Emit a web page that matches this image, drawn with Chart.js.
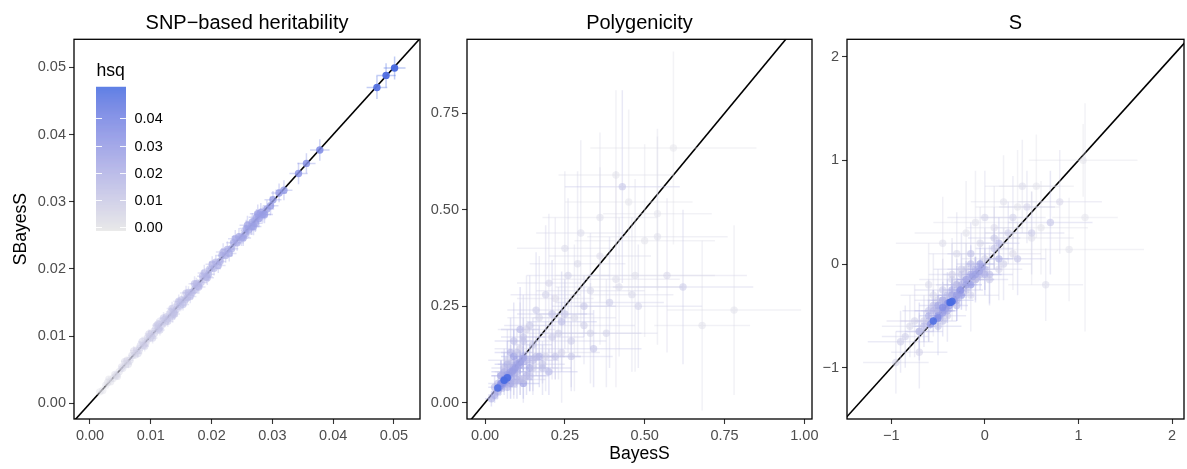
<!DOCTYPE html>
<html lang="en">
<head>
<meta charset="UTF-8">
<title>BayesS vs SBayesS</title>
<script src="https://cdn.jsdelivr.net/npm/chart.js"></script>
<style>
  body { margin: 0; background: #fff; }
  #wrap { position: relative; width: 1187px; height: 469px; overflow: hidden; }
  #wrap canvas { position: absolute; top: 0; }
</style>
</head>
<body>
<div id="wrap">
  <canvas id="c1" width="424" height="469" style="left:0px"></canvas>
  <canvas id="c2" width="402" height="469" style="left:424px"></canvas>
  <canvas id="c3" width="372" height="469" style="left:816px"></canvas>
</div>
<script>
// SNP-based heritability (also the colour value, hsq)
const hsqBayes = [0.0031,0.0045,0.0057,0.0063,0.0072,0.0079,0.0086,0.0090,0.0097,0.0103,
  0.0110,0.0115,0.0121,0.0128,0.0135,0.0139,0.0146,0.0153,0.0158,0.0165,
  0.0172,0.0179,0.0188,0.0193,0.0201,0.0211,0.0219,0.0229,0.0239,0.0252,
  0.0259,0.0269,0.0276,0.0287,0.0136,0.0112,
  0.0016,0.0021,0.0026,0.0029,0.0034,0.0038,0.0041,0.0043,0.0048,0.0052,
  0.0054,0.0059,0.0061,0.0066,0.0069,0.0074,0.0077,0.0081,0.0083,0.0088,
  0.0092,0.0094,0.0099,0.0101,0.0106,0.0108,0.0113,0.0117,0.0119,0.0124,
  0.0126,0.0131,0.0133,0.0138,0.0142,0.0144,0.0149,0.0151,0.0157,0.0160,
  0.0162,0.0168,0.0171,0.0175,0.0177,0.0183,0.0185,0.0191,0.0195,0.0197,
  0.0204,0.0207,0.0214,0.0217,0.0223,0.0226,0.0233,0.0236,0.0242,0.0245,
  0.0249,0.0255,0.0257,0.0261,0.0266,0.0267,0.0272,0.0274,0.0278,0.0281,
  0.0284,0.0291,0.0297,0.0301,0.0311,0.0319,0.0343,0.0356,0.0378,0.0472,
  0.0487,0.0501];
const hsqSBayes = [0.0036,0.0040,0.0062,0.0058,0.0078,0.0074,0.0092,0.0085,0.0103,0.0097,
  0.0116,0.0109,0.0127,0.0122,0.0141,0.0133,0.0152,0.0147,0.0164,0.0159,
  0.0178,0.0173,0.0194,0.0187,0.0207,0.0205,0.0225,0.0223,0.0245,0.0246,
  0.0265,0.0263,0.0282,0.0281,0.0130,0.0118,
  0.0017,0.0019,0.0027,0.0031,0.0032,0.0037,0.0043,0.0041,0.0047,0.0054,
  0.0052,0.0058,0.0064,0.0064,0.0071,0.0072,0.0079,0.0079,0.0086,0.0086,
  0.0090,0.0097,0.0097,0.0104,0.0104,0.0111,0.0111,0.0115,0.0122,0.0121,
  0.0129,0.0128,0.0136,0.0135,0.0140,0.0147,0.0146,0.0154,0.0154,0.0157,
  0.0165,0.0165,0.0168,0.0178,0.0174,0.0180,0.0189,0.0188,0.0192,0.0200,
  0.0201,0.0210,0.0211,0.0220,0.0220,0.0229,0.0230,0.0239,0.0239,0.0248,
  0.0246,0.0252,0.0260,0.0258,0.0263,0.0270,0.0268,0.0277,0.0275,0.0284,
  0.0281,0.0289,0.0294,0.0303,0.0313,0.0317,0.0342,0.0357,0.0377,0.0470,
  0.0488,0.0499];
const hsqSeX = [0.0005,0.0005,0.0006,0.0006,0.0006,0.0007,0.0007,0.0007,0.0007,0.0008,
  0.0008,0.0008,0.0008,0.0009,0.0009,0.0009,0.0009,0.0010,0.0010,0.0010,
  0.0010,0.0011,0.0011,0.0011,0.0011,0.0012,0.0012,0.0012,0.0012,0.0013,
  0.0013,0.0013,0.0013,0.0014,0.0009,0.0008,
  0.0003,0.0003,0.0004,0.0003,0.0004,0.0004,0.0005,0.0004,0.0005,0.0005,
  0.0004,0.0005,0.0006,0.0005,0.0006,0.0005,0.0006,0.0006,0.0005,0.0007,
  0.0006,0.0006,0.0007,0.0006,0.0007,0.0007,0.0006,0.0007,0.0008,0.0007,
  0.0007,0.0008,0.0007,0.0008,0.0009,0.0008,0.0008,0.0009,0.0008,0.0009,
  0.0010,0.0009,0.0008,0.0010,0.0009,0.0010,0.0009,0.0011,0.0010,0.0009,
  0.0010,0.0011,0.0010,0.0011,0.0012,0.0010,0.0011,0.0012,0.0011,0.0012,
  0.0011,0.0012,0.0011,0.0013,0.0012,0.0011,0.0012,0.0013,0.0012,0.0011,
  0.0013,0.0012,0.0013,0.0014,0.0013,0.0014,0.0015,0.0015,0.0016,0.0017,
  0.0016,0.0018];
const hsqSeY = [0.0004,0.0005,0.0005,0.0006,0.0007,0.0006,0.0007,0.0008,0.0007,0.0008,
  0.0009,0.0008,0.0009,0.0008,0.0010,0.0009,0.0010,0.0009,0.0011,0.0010,
  0.0011,0.0010,0.0012,0.0011,0.0012,0.0011,0.0013,0.0012,0.0013,0.0012,
  0.0014,0.0013,0.0014,0.0013,0.0010,0.0009,
  0.0003,0.0004,0.0003,0.0004,0.0004,0.0005,0.0004,0.0005,0.0005,0.0004,
  0.0005,0.0006,0.0005,0.0006,0.0005,0.0006,0.0007,0.0006,0.0006,0.0006,
  0.0007,0.0007,0.0006,0.0007,0.0008,0.0007,0.0007,0.0008,0.0007,0.0008,
  0.0008,0.0007,0.0008,0.0009,0.0008,0.0009,0.0009,0.0008,0.0010,0.0009,
  0.0009,0.0010,0.0010,0.0009,0.0011,0.0010,0.0010,0.0010,0.0011,0.0011,
  0.0011,0.0010,0.0012,0.0011,0.0011,0.0012,0.0012,0.0011,0.0012,0.0013,
  0.0012,0.0011,0.0013,0.0012,0.0012,0.0013,0.0013,0.0012,0.0013,0.0014,
  0.0012,0.0013,0.0014,0.0013,0.0014,0.0015,0.0016,0.0015,0.0016,0.0017,
  0.0018,0.0017];

// Polygenicity
const piBayes = [0.50,0.36,0.42,0.29,0.57,0.33,0.26,0.48,0.19,0.23,
  0.39,0.16,0.27,0.14,0.21,0.34,0.12,0.18,0.09,0.24,
  0.15,0.11,0.20,0.08,0.13,0.17,0.10,0.07,0.14,0.06,
  0.12,0.09,0.05,0.08,0.43,0.62,
  0.59,0.45,0.54,0.41,0.78,0.68,0.54,0.47,0.41,0.36,
  0.30,0.25,0.22,0.46,0.28,0.33,0.20,0.17,0.38,0.24,
  0.13,0.31,0.19,0.11,0.27,0.09,0.15,0.21,0.07,0.12,
  0.31,0.25,0.15,0.18,0.12,0.22,0.10,0.14,0.08,0.16,
  0.06,0.11,0.05,0.09,0.04,0.13,0.07,0.03,0.10,0.06,
  0.02,0.08,0.04,0.12,0.05,0.09,0.03,0.07,0.11,0.06,
  0.12,0.10,0.09,0.08,0.11,0.07,0.095,0.06,0.085,0.05,
  0.075,0.065,0.055,0.045,0.07,0.06,0.05,0.065,0.06,0.04,
  0.07,0.06];
const piSBayes = [0.42,0.48,0.30,0.36,0.33,0.18,0.33,0.25,0.28,0.18,
  0.26,0.24,0.12,0.20,0.23,0.14,0.17,0.09,0.16,0.21,
  0.11,0.19,0.08,0.13,0.07,0.12,0.06,0.10,0.09,0.08,
  0.05,0.12,0.07,0.05,0.56,0.30,
  0.66,0.52,0.49,0.59,0.24,0.20,0.43,0.33,0.32,0.38,
  0.44,0.40,0.27,0.28,0.22,0.29,0.31,0.22,0.18,0.13,
  0.19,0.20,0.12,0.14,0.16,0.08,0.09,0.17,0.11,0.06,
  0.25,0.23,0.15,0.10,0.16,0.12,0.13,0.07,0.10,0.12,
  0.09,0.06,0.07,0.05,0.05,0.11,0.04,0.04,0.08,0.05,
  0.01,0.06,0.03,0.12,0.04,0.09,0.02,0.07,0.10,0.05,
  0.115,0.10,0.085,0.08,0.105,0.07,0.09,0.06,0.08,0.045,
  0.07,0.06,0.05,0.04,0.065,0.055,0.05,0.06,0.06,0.038,
  0.065,0.058];
const piSeX = [0.22,0.18,0.20,0.15,0.25,0.16,0.13,0.20,0.11,0.12,
  0.17,0.09,0.13,0.08,0.11,0.15,0.07,0.09,0.06,0.11,
  0.08,0.06,0.09,0.05,0.07,0.08,0.05,0.04,0.06,0.04,
  0.05,0.04,0.03,0.04,0.18,0.22,
  0.26,0.20,0.17,0.18,0.21,0.15,0.22,0.25,0.20,0.16,
  0.14,0.15,0.12,0.13,0.13,0.17,0.10,0.10,0.16,0.12,
  0.09,0.16,0.11,0.08,0.11,0.06,0.08,0.10,0.06,0.07,
  0.10,0.09,0.06,0.07,0.05,0.08,0.05,0.05,0.04,0.06,
  0.04,0.04,0.03,0.04,0.03,0.05,0.03,0.02,0.04,0.03,
  0.02,0.03,0.02,0.04,0.02,0.03,0.02,0.03,0.03,0.02,
  0.03,0.03,0.02,0.02,0.03,0.02,0.02,0.02,0.02,0.015,
  0.02,0.015,0.015,0.01,0.015,0.015,0.01,0.01,0.01,0.01,
  0.01,0.01];
const piSeY = [0.25,0.22,0.18,0.24,0.20,0.13,0.20,0.16,0.18,0.12,
  0.17,0.15,0.09,0.13,0.14,0.10,0.11,0.07,0.10,0.13,
  0.08,0.11,0.06,0.09,0.05,0.08,0.05,0.06,0.06,0.05,
  0.04,0.07,0.04,0.04,0.25,0.20,
  0.25,0.24,0.20,0.22,0.22,0.22,0.28,0.25,0.28,0.23,
  0.24,0.20,0.21,0.20,0.19,0.15,0.18,0.16,0.14,0.13,
  0.14,0.10,0.09,0.12,0.12,0.07,0.07,0.11,0.08,0.06,
  0.08,0.09,0.07,0.05,0.06,0.06,0.06,0.04,0.05,0.05,
  0.05,0.04,0.04,0.03,0.03,0.05,0.03,0.03,0.04,0.03,
  0.02,0.03,0.02,0.04,0.02,0.03,0.02,0.03,0.03,0.02,
  0.03,0.03,0.02,0.02,0.03,0.02,0.02,0.02,0.02,0.015,
  0.02,0.015,0.015,0.01,0.015,0.015,0.01,0.01,0.01,0.01,
  0.01,0.01];

// S
const sBayes = [0.6,-0.1,0.4,-0.55,0.8,0.0,-0.35,0.3,-0.75,0.2,
  -0.25,0.5,-0.45,0.1,-0.6,0.35,-0.15,-0.5,0.05,-0.3,
  -0.7,0.15,-0.4,-0.1,-0.55,0.0,-0.3,-0.45,-0.2,-0.35,
  -0.05,-0.5,-0.25,-0.15,0.7,-0.9,
  1.05,0.55,1.07,0.35,0.9,-0.2,0.5,0.2,-0.45,0.1,
  0.65,-0.6,0.3,-0.3,-0.05,-0.95,0.15,-0.8,-0.15,0.45,
  -0.7,0.0,-0.5,-0.35,0.25,-0.85,-0.2,-0.65,0.05,-0.4,
  -0.1,-0.5,-0.25,-0.6,0.1,-0.4,-0.7,-0.2,-0.45,-0.3,
  0.0,-0.55,-0.35,-0.15,-0.65,-0.05,-0.45,-0.3,0.15,-0.5,
  -0.25,-0.4,-0.1,-0.6,-0.35,-0.2,-0.45,-0.3,-0.15,-0.5,
  -0.03,-0.06,-0.13,-0.2,-0.1,-0.26,-0.42,-0.3,-0.45,-0.38,
  -0.5,-0.33,-0.58,-0.4,-0.26,-0.36,-0.45,-0.5,-0.38,-0.55,
  -0.35,-0.37];
const sSBayes = [0.35,0.4,0.75,-0.3,0.6,0.45,-0.15,0.45,-0.55,0.0,
  -0.05,0.3,-0.25,0.25,-0.45,0.05,0.1,-0.6,-0.1,-0.2,
  -0.65,0.2,-0.3,-0.15,-0.45,-0.1,-0.35,-0.35,-0.15,-0.3,
  0.0,-0.45,-0.3,-0.2,0.4,-0.75,
  1.0,0.75,0.45,0.55,0.14,0.3,0.25,0.6,0.2,0.35,
  -0.2,-0.2,0.1,0.1,0.2,-0.95,-0.05,-0.6,-0.3,0.55,
  -0.85,0.05,-0.35,-0.1,0.3,-0.7,-0.05,-0.55,-0.15,-0.5,
  -0.15,-0.45,-0.1,-0.55,0.15,-0.35,-0.65,-0.25,-0.55,-0.2,
  -0.05,-0.4,-0.3,0.0,-0.6,-0.1,-0.35,-0.4,0.05,-0.5,
  -0.2,-0.45,-0.05,-0.5,-0.25,-0.15,-0.45,-0.3,-0.1,-0.4,
  -0.03,-0.07,-0.12,-0.2,-0.1,-0.26,-0.43,-0.3,-0.47,-0.4,
  -0.5,-0.35,-0.58,-0.38,-0.25,-0.37,-0.42,-0.52,-0.37,-0.55,
  -0.36,-0.37];
const sSeX = [0.5,0.45,0.4,0.35,0.45,0.4,0.35,0.35,0.3,0.3,
  0.3,0.35,0.3,0.28,0.28,0.3,0.25,0.25,0.25,0.22,
  0.25,0.22,0.2,0.2,0.2,0.18,0.18,0.16,0.16,0.15,
  0.15,0.14,0.13,0.12,0.45,0.35,
  0.58,0.4,0.35,0.45,0.8,0.55,0.45,0.35,0.5,0.3,
  0.4,0.35,0.3,0.3,0.3,0.35,0.25,0.3,0.3,0.3,
  0.3,0.25,0.25,0.25,0.25,0.25,0.2,0.25,0.2,0.2,
  0.2,0.18,0.2,0.15,0.2,0.15,0.15,0.18,0.15,0.15,
  0.18,0.15,0.12,0.15,0.12,0.15,0.12,0.12,0.15,0.1,
  0.12,0.1,0.12,0.1,0.1,0.1,0.1,0.08,0.1,0.08,
  0.08,0.08,0.07,0.07,0.07,0.06,0.06,0.06,0.05,0.05,
  0.05,0.05,0.05,0.05,0.05,0.04,0.04,0.04,0.04,0.04,
  0.04,0.04];
const sSeY = [0.45,0.5,0.45,0.4,0.5,0.45,0.4,0.4,0.35,0.35,
  0.35,0.4,0.3,0.3,0.3,0.35,0.3,0.28,0.28,0.25,
  0.28,0.25,0.22,0.22,0.2,0.2,0.2,0.18,0.18,0.16,
  0.16,0.15,0.14,0.13,0.5,0.3,
  0.35,0.5,1.1,0.55,0.5,0.5,0.45,0.45,0.45,0.4,
  0.35,0.4,0.35,0.4,0.35,0.3,0.3,0.3,0.35,0.35,
  0.35,0.3,0.3,0.3,0.3,0.3,0.25,0.25,0.25,0.25,
  0.2,0.2,0.2,0.2,0.2,0.2,0.18,0.2,0.15,0.18,
  0.2,0.15,0.15,0.18,0.15,0.15,0.12,0.15,0.15,0.12,
  0.12,0.12,0.12,0.1,0.12,0.1,0.1,0.1,0.1,0.1,
  0.08,0.08,0.07,0.07,0.07,0.06,0.06,0.06,0.05,0.05,
  0.05,0.05,0.05,0.05,0.05,0.04,0.04,0.04,0.04,0.04,
  0.04,0.04];

// axes
const xRange1 = [-0.00263, 0.05428], yRange1 = [-0.00234, 0.05417];
const xRange2 = [-0.0564, 1.024],    yRange2 = [-0.0422, 0.9418];
const xRange3 = [-1.472, 2.127],     yRange3 = [-1.495, 2.168];
const ticks1 = [0, 0.01, 0.02, 0.03, 0.04, 0.05];
const tickLabels1 = ['0.00', '0.01', '0.02', '0.03', '0.04', '0.05'];
const xTicks2 = [0, 0.25, 0.5, 0.75, 1];
const xTickLabels2 = ['0.00', '0.25', '0.50', '0.75', '1.00'];
const yTicks2 = [0, 0.25, 0.5, 0.75];
const yTickLabels2 = ['0.00', '0.25', '0.50', '0.75'];
const ticks3 = [-1, 0, 1, 2];
const tickLabels3 = ['\u22121', '0', '1', '2'];

// colour scale (hsq)
const colourLimits = [-0.0015, 0.0517];
const legendTicks = [0, 0.01, 0.02, 0.03, 0.04];
const legendLabels = ['0.00', '0.01', '0.02', '0.03', '0.04'];

const FONT = "'Liberation Sans', Arial, Helvetica, sans-serif";
Chart.defaults.font.family = FONT;

// grey90 -> royalblue, interpolated in Lab like ggplot
function toLab(rgb) {
  const lin = rgb.map(c => { c /= 255; return c <= 0.04045 ? c / 12.92 : Math.pow((c + 0.055) / 1.055, 2.4); });
  const X = (0.4124 * lin[0] + 0.3576 * lin[1] + 0.1805 * lin[2]) / 0.95047;
  const Y = 0.2126 * lin[0] + 0.7152 * lin[1] + 0.0722 * lin[2];
  const Z = (0.0193 * lin[0] + 0.1192 * lin[1] + 0.9505 * lin[2]) / 1.08883;
  const f = t => t > 0.008856 ? Math.cbrt(t) : 7.787 * t + 16 / 116;
  return [116 * f(Y) - 16, 500 * (f(X) - f(Y)), 200 * (f(Y) - f(Z))];
}
function fromLab([L, a, b]) {
  const fy = (L + 16) / 116, fx = fy + a / 500, fz = fy - b / 200;
  const fi = t => t * t * t > 0.008856 ? t * t * t : (t - 16 / 116) / 7.787;
  const X = 0.95047 * fi(fx), Y = fi(fy), Z = 1.08883 * fi(fz);
  const lin = [3.2406 * X - 1.5372 * Y - 0.4986 * Z,
               -0.9689 * X + 1.8758 * Y + 0.0415 * Z,
               0.0557 * X - 0.2040 * Y + 1.0570 * Z];
  return lin.map(c => {
    c = c <= 0.0031308 ? 12.92 * c : 1.055 * Math.pow(c, 1 / 2.4) - 0.055;
    return Math.round(Math.min(1, Math.max(0, c)) * 255);
  });
}
const lowLab = toLab([229, 229, 229]), highLab = toLab([65, 105, 225]);
function hsqT(v) {
  return Math.min(1, Math.max(0, (v - colourLimits[0]) / (colourLimits[1] - colourLimits[0])));
}
function hsqColour(v, alpha) {
  const t = hsqT(v);
  const [r, g, b] = fromLab(lowLab.map((c, i) => c + (highLab[i] - c) * t));
  return `rgba(${r},${g},${b},${alpha})`;
}

// error bars drawn just before the point dataset
const errorBars = {
  id: 'errorBars',
  beforeDatasetDraw(chart, args) {
    if (args.index !== 0) return;
    const { ctx, chartArea: a, scales: { x, y } } = chart;
    ctx.save();
    ctx.beginPath();
    ctx.rect(a.left, a.top, a.right - a.left, a.bottom - a.top);
    ctx.clip();
    ctx.lineWidth = 1.5;
    chart.data.datasets[0].data.forEach(p => {
      const px = x.getPixelForValue(p.x), py = y.getPixelForValue(p.y);
      ctx.strokeStyle = hsqColour(p.h, 0.35);
      ctx.beginPath();
      ctx.moveTo(x.getPixelForValue(p.x - p.xe), py);
      ctx.lineTo(x.getPixelForValue(p.x + p.xe), py);
      ctx.moveTo(px, y.getPixelForValue(p.y - p.ye));
      ctx.lineTo(px, y.getPixelForValue(p.y + p.ye));
      ctx.stroke();
    });
    ctx.restore();
  }
};

const frame = {
  id: 'frame',
  afterDraw(chart) {
    const { ctx, chartArea: a } = chart;
    ctx.save();
    ctx.strokeStyle = '#000';
    ctx.lineWidth = 1.3;
    ctx.strokeRect(a.left, a.top, a.right - a.left, a.bottom - a.top);
    ctx.restore();
  }
};

// hsq colourbar inside the first panel
const colourLegend = {
  id: 'colourLegend',
  afterDraw(chart) {
    const { ctx, chartArea: a } = chart;
    const left = a.left + 22, w = 30, top = a.top + 47.5, h = 144;
    ctx.save();
    for (let i = 0; i < h; i++) {
      const v = colourLimits[1] - (i + 0.5) / h * (colourLimits[1] - colourLimits[0]);
      ctx.fillStyle = hsqColour(v, 1);
      ctx.fillRect(left, top + i, w, 1);
    }
    ctx.fillStyle = '#000';
    ctx.font = `17.6px ${FONT}`;
    ctx.textBaseline = 'alphabetic';
    ctx.fillText('hsq', left + 0.5, a.top + 36.5);
    ctx.font = `14.5px ${FONT}`;
    ctx.textBaseline = 'middle';
    ctx.strokeStyle = 'rgba(255,255,255,0.9)';
    ctx.lineWidth = 1;
    legendTicks.forEach((v, i) => {
      const ty = Math.round(top + h - hsqT(v) * h) + 0.5;
      ctx.beginPath();
      ctx.moveTo(left, ty); ctx.lineTo(left + 6, ty);
      ctx.moveTo(left + w - 6, ty); ctx.lineTo(left + w, ty);
      ctx.stroke();
      ctx.fillText(legendLabels[i], left + 38.5, ty);
    });
    ctx.restore();
  }
};

function axis(range, ticks, labels, fit, title) {
  return {
    type: 'linear',
    min: range[0],
    max: range[1],
    afterBuildTicks: s => { s.ticks = ticks.map(v => ({ value: v })); },
    afterFit: fit,
    grid: { display: true, drawOnChartArea: false, drawTicks: true, tickLength: 5, tickColor: '#333', tickWidth: 1.1 },
    border: { display: false },
    ticks: { color: '#4d4d4d', font: { size: 14.5 }, padding: 3, callback: (v, i) => labels[i] },
    title: title
  };
}

function makePanel(id, opts) {
  const points = opts.x.map((v, i) => ({ x: v, y: opts.y[i], xe: opts.xe[i], ye: opts.ye[i], h: hsqBayes[i] }));
  const lo = Math.min(opts.xRange[0], opts.yRange[0]), hi = Math.max(opts.xRange[1], opts.yRange[1]);
  const plugins = [errorBars, frame];
  if (opts.legend) plugins.push(colourLegend);
  new Chart(document.getElementById(id), {
    type: 'scatter',
    data: {
      datasets: [
        {
          data: points,
          pointBackgroundColor: points.map(p => hsqColour(p.h, 0.35 + 0.65 * hsqT(p.h))),
          pointBorderWidth: 0,
          pointRadius: 3.7
        },
        {
          data: [{ x: lo, y: lo }, { x: hi, y: hi }],
          showLine: true,
          borderColor: '#000',
          borderWidth: 1.6,
          pointRadius: 0
        }
      ]
    },
    options: {
      responsive: false,
      animation: false,
      events: [],
      layout: { padding: { left: 0, right: opts.padRight, top: 0, bottom: 0 } },
      plugins: {
        legend: { display: false },
        tooltip: { enabled: false },
        title: {
          display: true, text: opts.title, color: '#000', fullSize: false,
          font: { size: 20, weight: 'normal' }, padding: { top: 11, bottom: 4.3 }
        }
      },
      scales: {
        x: axis(opts.xRange, opts.xTicks, opts.xLabels,
          s => { s.height = 50; s.paddingLeft = 0; s.paddingRight = 0; },
          { display: !!opts.xTitle, text: opts.xTitle, color: '#000', font: { size: 17.6 }, padding: { top: 0, bottom: 4.4 } }),
        y: axis(opts.yRange, opts.yTicks, opts.yLabels,
          s => { s.width = opts.yWidth; s.paddingTop = 0; s.paddingBottom = 0; },
          { display: !!opts.yTitle, text: opts.yTitle, color: '#000', font: { size: 17.6 }, padding: { top: 11, bottom: 0 } })
      }
    },
    plugins: plugins
  });
}

makePanel('c1', {
  title: 'SNP\u2212based heritability', x: hsqBayes, y: hsqSBayes, xe: hsqSeX, ye: hsqSeY,
  xRange: xRange1, yRange: yRange1, xTicks: ticks1, xLabels: tickLabels1, yTicks: ticks1, yLabels: tickLabels1,
  yWidth: 74, padRight: 4, yTitle: 'SBayesS', xTitle: '', legend: true
});
makePanel('c2', {
  title: 'Polygenicity', x: piBayes, y: piSBayes, xe: piSeX, ye: piSeY,
  xRange: xRange2, yRange: yRange2, xTicks: xTicks2, xLabels: xTickLabels2, yTicks: yTicks2, yLabels: yTickLabels2,
  yWidth: 43, padRight: 14, yTitle: '', xTitle: 'BayesS'
});
makePanel('c3', {
  title: 'S', x: sBayes, y: sSBayes, xe: sSeX, ye: sSeY,
  xRange: xRange3, yRange: yRange3, xTicks: ticks3, xLabels: tickLabels3, yTicks: ticks3, yLabels: tickLabels3,
  yWidth: 31, padRight: 0, yTitle: '', xTitle: ''
});
</script>
</body>
</html>
